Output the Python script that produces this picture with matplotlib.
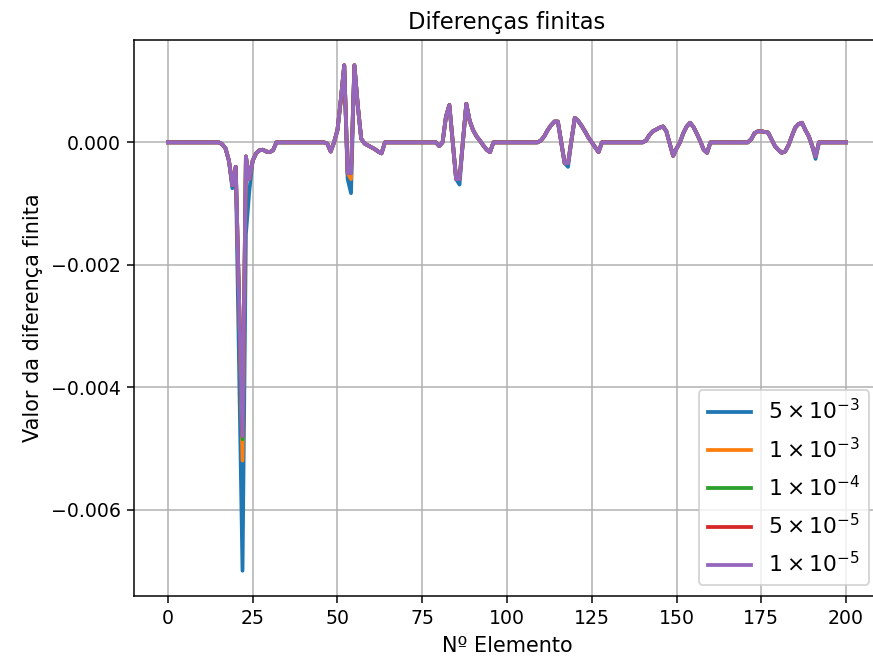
import numpy as np
import matplotlib
matplotlib.use('Agg')
import matplotlib.pyplot as plt

N_ELEM = 201  # elementos 0..200

# pontos nao nulos da diferenca finita (passo 1e-5), o resto e zero
base_idx = [16, 17, 18, 19, 20, 21, 22, 23, 24, 25, 26, 27, 28, 29, 30, 31,
            47, 48, 49, 50, 51, 52, 53, 54, 55, 56, 57, 58, 59, 60, 61, 62, 63,
            80, 82, 83, 84, 85, 86, 87, 88, 89, 90, 91, 92, 93, 94, 95,
            110, 111, 112, 113, 114, 115, 116, 117, 118, 119, 120, 121, 122, 123, 124, 126, 127,
            141, 142, 143, 144, 145, 146, 147, 148, 149, 150, 152, 153, 154, 155, 156, 157, 158, 159,
            172, 173, 174, 175, 176, 177, 178, 179, 180, 181, 182, 183, 184, 185, 186, 187, 188, 189, 190, 191]
base_val = [-0.00003, -0.0001, -0.0003, -0.0007, -0.0004, -0.0026, -0.0048, -0.00023, -0.0006, -0.0003,
            -0.00018, -0.00013, -0.00012, -0.00015, -0.00016, -0.00013,
            -0.00002, -0.00015, 0.0, 0.0002, 0.0007, 0.00126, -0.0005, -0.0005, 0.00126, 0.0006,
            0.00006, -0.00002, -0.00005, -0.00008, -0.00011, -0.00015, -0.00018,
            -0.00006, 0.00042, 0.00061, 0.0, -0.0006, -0.0006, 0.00001, 0.00063, 0.00035,
            0.0002, 0.0001, 0.00003, -0.00005, -0.00012, -0.00016,
            0.00003, 0.0001, 0.0002, 0.00028, 0.00034, 0.00034, 0.0, -0.00034, -0.00034, 0.00003,
            0.0004, 0.00035, 0.00027, 0.00018, 0.00008, -0.00008, -0.00016,
            0.00003, 0.00012, 0.00018, 0.00021, 0.00024, 0.00026, 0.00018, -0.00002, -0.00022,
            -0.0001, 0.00015, 0.00026, 0.00032, 0.00025, 0.00014, 0.00002, -0.00012, -0.00017,
            0.00005, 0.00015, 0.00018, 0.00018, 0.00017, 0.00016, 0.00005, -0.00006, -0.00012,
            -0.00017, -0.00015, -0.00005, 0.0001, 0.00024, 0.0003, 0.00032, 0.0002, 0.0001,
            -0.00006, -0.00023]

# onde cada passo difere da curva base
diff_5e3 = {19: -0.00075, 21: -0.0037, 22: -0.0070, 23: -0.0015, 24: -0.0008,
            53: -0.0006, 54: -0.00083, 86: -0.00069, 118: -0.0004, 191: -0.00027}
diff_1e3 = {22: -0.0052, 54: -0.0006}
diff_1e4 = {22: -0.00485}
diff_5e5 = {22: -0.0048}
diff_1e5 = {}

labels = [r'$5\times10^{-3}$', r'$1\times10^{-3}$', r'$1\times10^{-4}$',
          r'$5\times10^{-5}$', r'$1\times10^{-5}$']


def build(overrides):
    y = np.zeros(N_ELEM)
    y[base_idx] = base_val
    for k, v in overrides.items():
        y[k] = v
    return y


x = np.arange(N_ELEM)
series = [build(d) for d in (diff_5e3, diff_1e3, diff_1e4, diff_5e5, diff_1e5)]

fig = plt.figure(figsize=(873 / 136, 664 / 136), dpi=136)
# o quadro da direita fica cortado na imagem original
fig.subplots_adjust(left=0.1535, right=1.008, bottom=0.1024, top=0.9398)

for y, lab in zip(series, labels):
    plt.plot(x, y, label=lab, linewidth=2)

plt.title('Diferenças finitas')
plt.xlabel('Nº Elemento', fontsize=11)
plt.ylabel('Valor da diferença finita', fontsize=11)
plt.grid()
plt.legend(loc='lower right', fontsize=11.5, labelspacing=0.6)

plt.savefig('out.png', dpi=136)
